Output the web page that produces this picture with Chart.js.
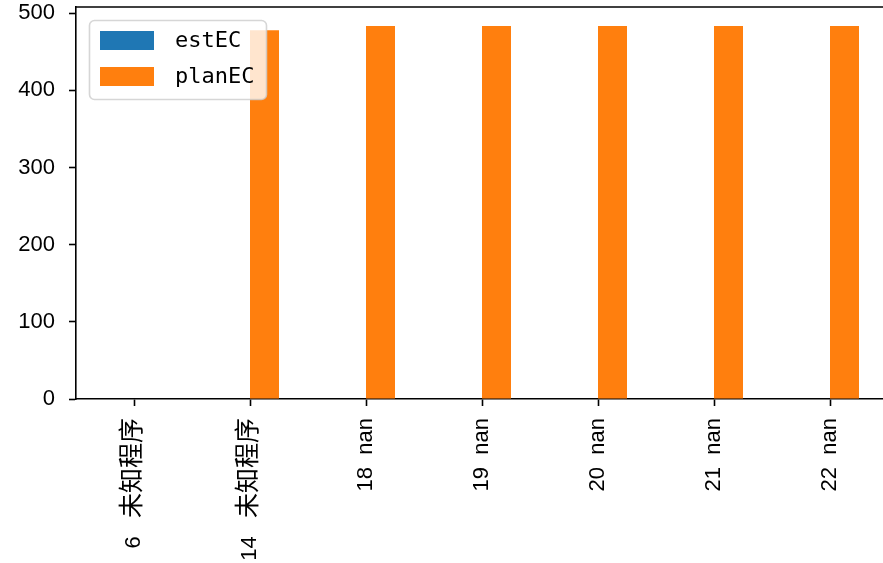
<!DOCTYPE html>
<html>
<head>
<meta charset="utf-8">
<script src="https://cdn.jsdelivr.net/npm/chart.js@4.4.0/dist/chart.umd.min.js"></script>
<style>
  /* CJK glyphs in the reference are drawn a bit larger than the latin ones */
  @font-face {
    font-family: 'CJKBig';
    src: local('Noto Sans CJK SC'), local('Noto Sans CJK SC Regular'), local('NotoSansCJKsc-Regular');
    size-adjust: 114%;
    unicode-range: U+3000-9FFF;
  }
  html, body { margin: 0; padding: 0; background: #fff; overflow: hidden; }
  #wrap { width: 890px; height: 563px; }
</style>
</head>
<body>
<div id="wrap"><canvas id="chart" width="890" height="563"></canvas></div>
<script>
// values
const categories = ['6   未知程序', '14   未知程序', '18  nan', '19  nan', '20  nan', '21  nan', '22  nan'];
const estEC = [0, 0, 0, 0, 0, 0, 0];
const planEC = [null, 478, 483.5, 483.5, 483.5, 483.5, 483.5];
const yTicks = [0, 100, 200, 300, 400, 500];
const yMax = 508;

const tickFont = { family: "'Liberation Sans', 'CJKBig', 'Noto Sans CJK SC', sans-serif", size: 22 };

// legend box in the upper left, semi transparent like matplotlib's
const legendBox = {
  id: 'legendBox',
  afterDraw(chart) {
    const ctx = chart.ctx;
    ctx.save();
    const x = 89.5, y = 20.5, w = 177, h = 79, r = 5;
    ctx.beginPath();
    ctx.roundRect(x, y, w, h, r);
    ctx.fillStyle = 'rgba(255,255,255,0.8)';
    ctx.fill();
    ctx.strokeStyle = 'rgba(204,204,204,0.8)';
    ctx.lineWidth = 1.6;
    ctx.stroke();
    ctx.font = "22px 'DejaVu Sans Mono', monospace";
    ctx.textBaseline = 'middle';
    chart.data.datasets.forEach((ds, i) => {
      const ry = 31 + i * 36;
      ctx.fillStyle = ds.backgroundColor;
      ctx.fillRect(100, ry, 54, 19);
      ctx.fillStyle = '#000';
      ctx.fillText(ds.label, 175, ry + 10);
    });
    ctx.restore();
  }
};

// top spine
const topSpine = {
  id: 'topSpine',
  afterDraw(chart) {
    const a = chart.chartArea, ctx = chart.ctx;
    ctx.save();
    ctx.strokeStyle = '#000';
    ctx.lineWidth = 1.6;
    ctx.beginPath();
    ctx.moveTo(a.left, a.top);
    ctx.lineTo(a.right, a.top);
    ctx.stroke();
    ctx.restore();
  }
};

function draw() {
  new Chart(document.getElementById('chart'), {
    type: 'bar',
    data: {
      labels: categories,
      datasets: [
        { label: 'estEC', data: estEC, backgroundColor: '#1f77b4' },
        { label: 'planEC', data: planEC, backgroundColor: '#ff7f0e' }
      ]
    },
    options: {
      responsive: false,
      animation: false,
      devicePixelRatio: 1,
      layout: { padding: { top: 7, left: 0, right: 2, bottom: 0 } },
      datasets: { bar: { categoryPercentage: 0.5, barPercentage: 1.0 } },
      plugins: {
        legend: { display: false },
        tooltip: { enabled: false }
      },
      scales: {
        x: {
          offset: true,
          border: { color: '#000', width: 1.6 },
          grid: { offset: false, drawOnChartArea: false, drawTicks: true, tickLength: 7, tickColor: '#000', tickWidth: 1.6 },
          ticks: { color: '#000', font: tickFont, minRotation: 90, maxRotation: 90, autoSkip: false, padding: 12 },
          afterFit(scale) {
            scale.height = 164;
            scale.paddingLeft = 0;
            scale.paddingRight = 0;
          }
        },
        y: {
          min: 0,
          max: yMax,
          border: { color: '#000', width: 1.6 },
          grid: { drawOnChartArea: false, drawTicks: true, tickLength: 7, tickColor: '#000', tickWidth: 1.6 },
          ticks: { color: '#000', font: tickFont, padding: 14 },
          afterBuildTicks(scale) { scale.ticks = yTicks.map(v => ({ value: v })); },
          afterFit(scale) {
            scale.width = 76;
            scale.paddingTop = 0;
            scale.paddingBottom = 0;
          }
        }
      }
    },
    plugins: [legendBox, topSpine]
  });
}

document.fonts.load("22px CJKBig", "未知程序").then(draw, draw);
</script>
</body>
</html>
